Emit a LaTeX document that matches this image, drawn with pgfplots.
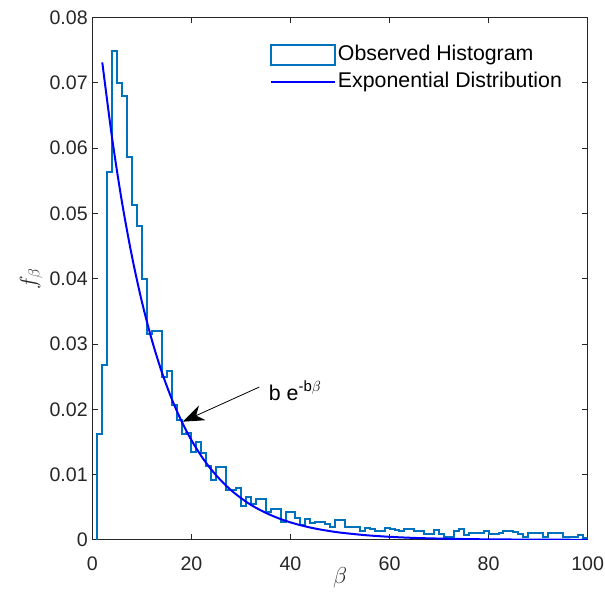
\documentclass[border=0pt]{standalone}
\usepackage{fontspec}
\setmainfont{Liberation Sans}
\usepackage{pgfplots}
\pgfplotsset{compat=1.18}
\usetikzlibrary{arrows.meta,calc}
\definecolor{histblue}{RGB}{0,114,189}
\definecolor{axgray}{RGB}{38,38,38}
\begin{document}
\begin{tikzpicture}
\begin{axis}[name=ax, scale only axis, width=371.6pt, height=392pt,
  xmin=0, xmax=100, ymin=0, ymax=0.08,
  xtick={0,20,40,60,80,100},
  ytick={0,0.01,0.02,0.03,0.04,0.05,0.06,0.07,0.08},
  yticklabels={0,0.01,0.02,0.03,0.04,0.05,0.06,0.07,0.08},
  scaled y ticks=false,
  tick align=inside, major tick length=4.3pt,
  axis line style={axgray, line width=0.6pt},
  tick style={axgray, line width=0.6pt},
  ticklabel style={font=\fontsize{14.7}{17}\selectfont, text=axgray},
  xticklabel style={anchor=base, yshift=-23pt},
  /pgf/number format/assume math mode=true,
  xlabel={$\beta$}, ylabel={$f_\beta$},
  label style={font=\fontsize{17}{20}\selectfont, text=axgray},
  xlabel style={at={(rel axis cs:0.5,0)}, anchor=center, yshift=-28.5pt},
  ylabel style={xshift=0pt, yshift=-1.5pt},
  legend cell align=left,
  legend style={at={(0.358,0.951)}, anchor=north west, draw=none, fill=none,
    font=\fontsize{16}{19}\selectfont, row sep=2.6pt, inner sep=0pt,
    nodes={inner sep=1.5pt, text height=11.5pt, text depth=3pt}},
]
\addplot[histblue, line width=1.5pt, const plot mark left,
  legend image code/.code={\draw[histblue, line width=1.5pt] (0pt,-7.5pt) rectangle (48pt,7.5pt);}]
coordinates {
(1,0) (1,0.0162) (2,0.0268) (3,0.0564) (4,0.0749) (5,0.0700) (6,0.0679) (7,0.0587) (8,0.0513) (9,0.0481) (10,0.0400)
(11,0.0315) (12,0.0320) (13,0.0320) (14,0.0250) (15,0.0258) (16,0.0207) (17,0.0184) (18,0.0162) (19,0.0164) (20,0.0134)
(21,0.0150) (22,0.0133) (23,0.0113) (24,0.0091) (25,0.0111) (26,0.0111) (27,0.0077) (28,0.0077) (29,0.0080) (30,0.0052)
(31,0.0065) (32,0.0055) (33,0.0063) (34,0.0063) (35,0.0042) (36,0.0048) (37,0.0048) (38,0.0028) (39,0.0043) (40,0.0043)
(41,0.0033) (42,0.0023) (43,0.0032) (44,0.0026) (45,0.0028) (46,0.0028) (47,0.0025) (48,0.0020) (49,0.0031) (50,0.0031)
(51,0.0020) (52,0.0019) (53,0.0019) (54,0.0013) (55,0.0018) (56,0.0016) (57,0.0013) (58,0.0013) (59,0.0018) (60,0.0016)
(61,0.0015) (62,0.0013) (63,0.0016) (64,0.0016) (65,0.0013) (66,0.0013) (67,0.0009) (68,0.0009) (69,0.0015) (70,0.0009)
(71,0.0005) (72,0.0005) (73,0.0013) (74,0.0016) (75,0.0008) (76,0.0010) (77,0.0010) (78,0.0010) (79,0.0014) (80,0.0009)
(81,0.0009) (82,0.0010) (83,0.0013) (84,0.0013) (85,0.0012) (86,0.0009) (87,0.0005) (88,0.0010) (89,0.0010) (90,0.0010)
(91,0.0004) (92,0.0010) (93,0.0010) (94,0.0010) (95,0.0004) (96,0.0005) (97,0.0005) (98,0.0007) (99,0.0003) (100,0)
};
\addlegendentry{Observed Histogram}
\addplot[blue, line width=1.5pt, smooth,
  legend image code/.code={\draw[blue, line width=1.5pt] (0pt,0pt) -- (48pt,0pt);}]
coordinates {
(2,0.07311) (4,0.06143) (6,0.05162) (8,0.04338) (10,0.03645) (12,0.03063) (14,0.02574) (16,0.02163) (18,0.01817)
(20,0.01527) (22,0.01283) (24,0.01078) (26,0.00906) (28,0.00761) (30,0.00640) (32,0.00537) (34,0.00452) (36,0.00380)
(38,0.00319) (40,0.00268) (42,0.00225) (44,0.00189) (46,0.00159) (48,0.00134) (50,0.00112) (55,0.00073) (60,0.00047)
(65,0.00030) (70,0.00020) (75,0.00013) (80,0.000083) (90,0.000035) (100,0.0000145)
};
\addlegendentry{Exponential Distribution}
\draw[black, line width=0.6pt, -{Stealth[length=16pt,width=12pt,inset=5pt]}] (axis cs:33.7,0.0234) -- (axis cs:18.25,0.0181);
\node[anchor=base west, inner sep=0pt, font=\fontsize{16}{19}\selectfont] at (axis cs:35.6,0.0214) {b e\textsuperscript{-b$\beta$}};
\end{axis}
\pgfresetboundingbox
\path ($(ax.south west)+(-69.3pt,-45pt)$) rectangle ($(ax.north east)+(13pt,13.05pt)$);
\end{tikzpicture}
\end{document}
